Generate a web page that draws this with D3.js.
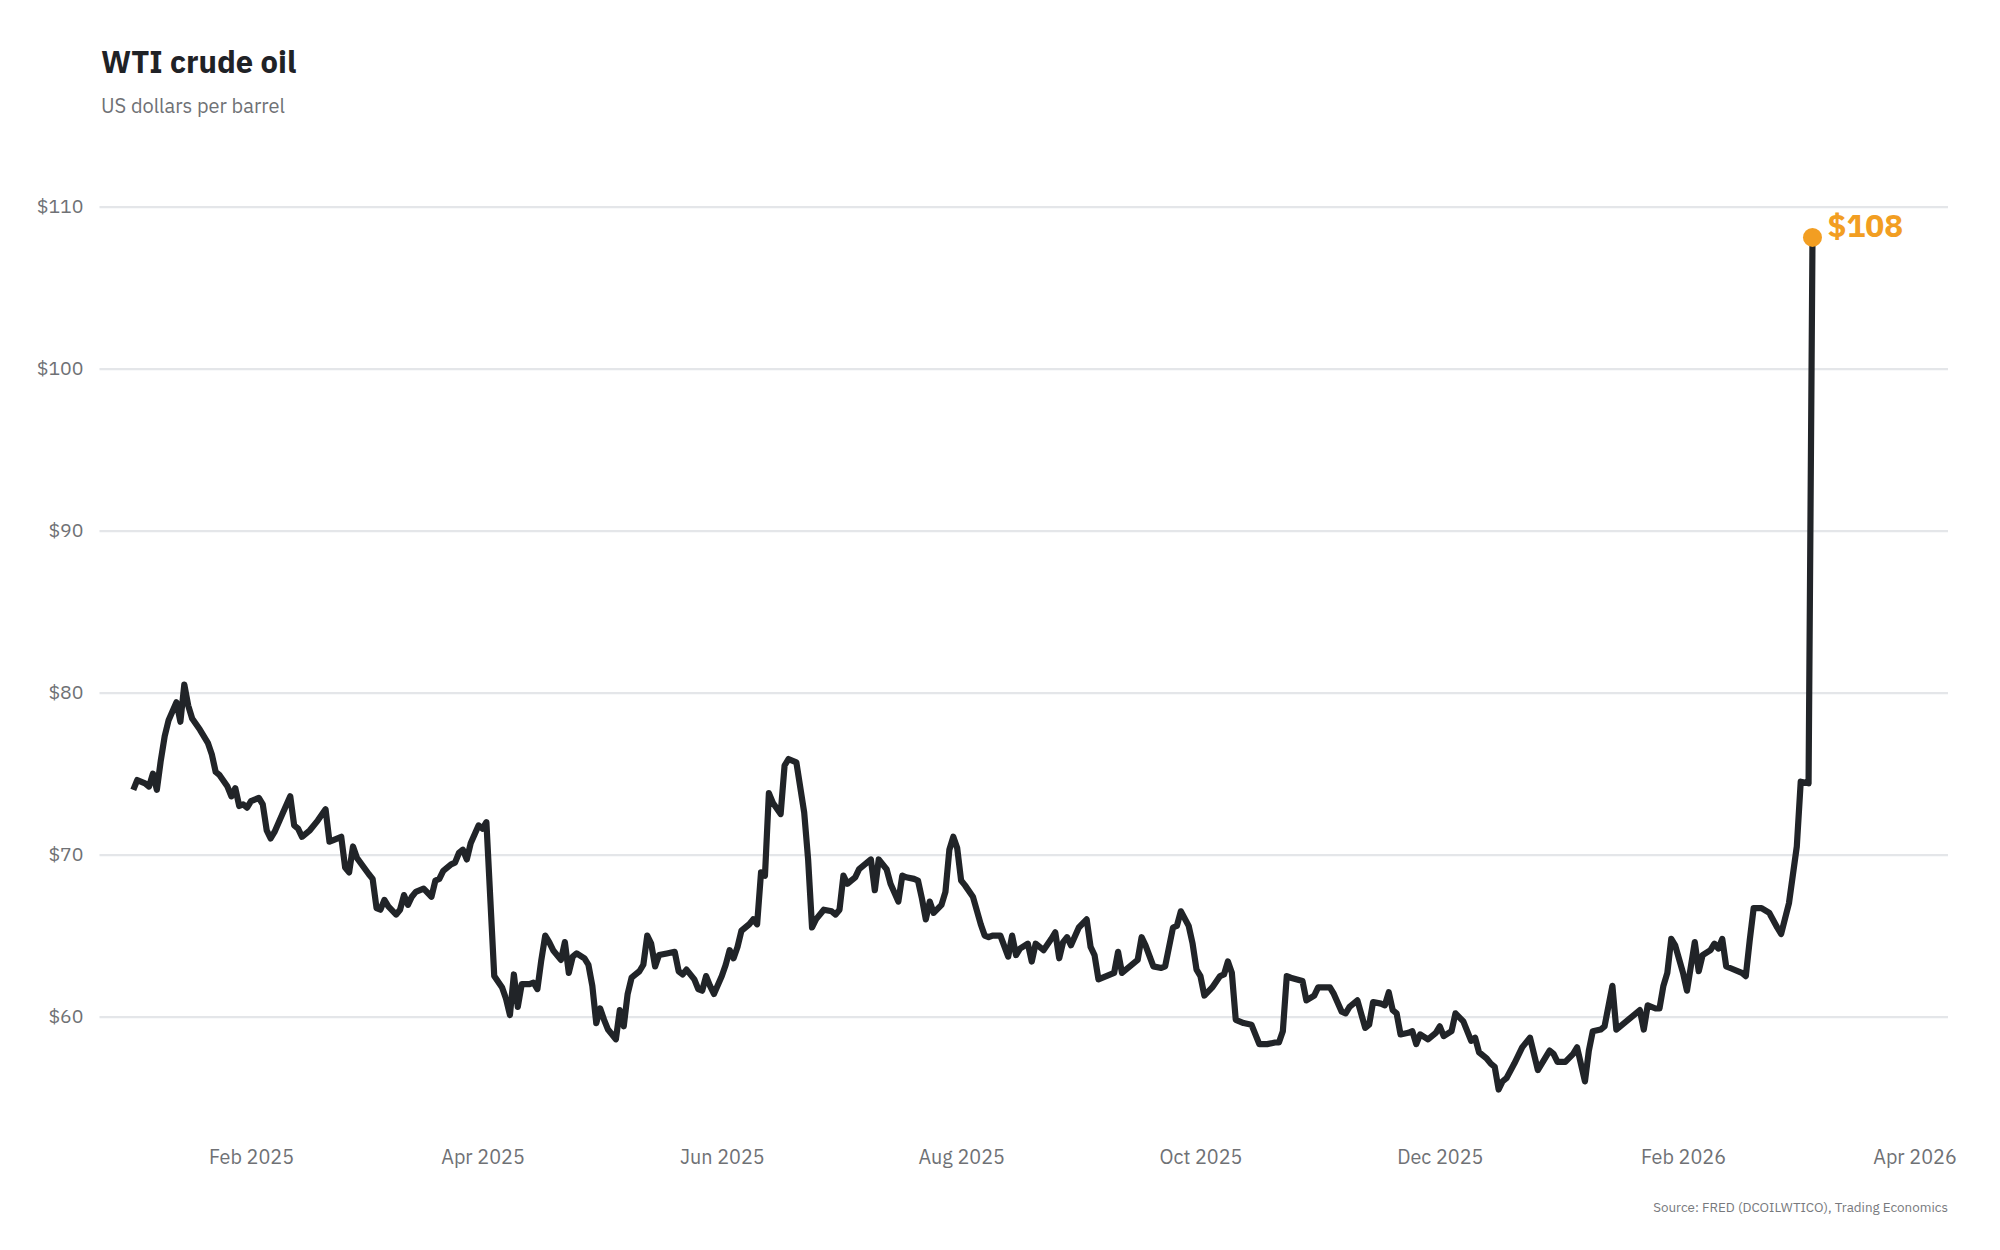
<!DOCTYPE html>
<html>
<head>
<meta charset="utf-8">
<script src="https://cdn.jsdelivr.net/npm/d3@7"></script>
<style>
  html, body { margin: 0; padding: 0; background: #ffffff; }
  svg { display: block; }
  text { font-family: "IBM Plex Sans", "Noto Sans", sans-serif; }
</style>
</head>
<body>
<svg id="chart" width="2000" height="1250"></svg>
<script>
const title = "WTI crude oil";
const subtitle = "US dollars per barrel";
const source = "Source: FRED (DCOILWTICO), Trading Economics";

const dates = [
"2025-01-02","2025-01-03","2025-01-05","2025-01-06","2025-01-07","2025-01-08","2025-01-09","2025-01-10","2025-01-11","2025-01-13",
"2025-01-14","2025-01-15","2025-01-16","2025-01-17","2025-01-19","2025-01-21","2025-01-22","2025-01-23","2025-01-24","2025-01-26",
"2025-01-27","2025-01-28","2025-01-29","2025-01-30","2025-01-31","2025-02-01","2025-02-03","2025-02-04","2025-02-05","2025-02-06",
"2025-02-07","2025-02-09","2025-02-11","2025-02-12","2025-02-13","2025-02-14","2025-02-16","2025-02-18","2025-02-20","2025-02-21",
"2025-02-22","2025-02-24","2025-02-25","2025-02-26","2025-02-27","2025-02-28","2025-03-03","2025-03-04","2025-03-05","2025-03-06",
"2025-03-07","2025-03-08","2025-03-10","2025-03-11","2025-03-12","2025-03-13","2025-03-14","2025-03-15","2025-03-17","2025-03-19",
"2025-03-20","2025-03-21","2025-03-22","2025-03-24","2025-03-25","2025-03-26","2025-03-27","2025-03-28","2025-03-29","2025-03-31",
"2025-04-01","2025-04-02","2025-04-04","2025-04-06","2025-04-07","2025-04-08","2025-04-09","2025-04-10","2025-04-11","2025-04-13",
"2025-04-14","2025-04-15","2025-04-16","2025-04-17","2025-04-18","2025-04-19","2025-04-21","2025-04-22","2025-04-23","2025-04-24",
"2025-04-25","2025-04-27","2025-04-28","2025-04-29","2025-04-30","2025-05-01","2025-05-02","2025-05-03","2025-05-05","2025-05-06",
"2025-05-07","2025-05-08","2025-05-09","2025-05-11","2025-05-12","2025-05-13","2025-05-14","2025-05-15","2025-05-16","2025-05-18",
"2025-05-20","2025-05-21","2025-05-22","2025-05-23","2025-05-25","2025-05-26","2025-05-27","2025-05-28","2025-05-29","2025-05-30",
"2025-06-01","2025-06-02","2025-06-03","2025-06-04","2025-06-05","2025-06-06","2025-06-08","2025-06-09","2025-06-10","2025-06-11",
"2025-06-12","2025-06-13","2025-06-14","2025-06-16","2025-06-17","2025-06-18","2025-06-20","2025-06-22","2025-06-23","2025-06-24",
"2025-06-25","2025-06-27","2025-06-29","2025-06-30","2025-07-01","2025-07-02","2025-07-03","2025-07-05","2025-07-06","2025-07-08",
"2025-07-09","2025-07-10","2025-07-11","2025-07-13","2025-07-14","2025-07-16","2025-07-17","2025-07-18","2025-07-20","2025-07-21",
"2025-07-22","2025-07-23","2025-07-24","2025-07-25","2025-07-27","2025-07-28","2025-07-29","2025-07-30","2025-07-31","2025-08-01",
"2025-08-02","2025-08-04","2025-08-06","2025-08-07","2025-08-08","2025-08-09","2025-08-11","2025-08-13","2025-08-14","2025-08-15",
"2025-08-16","2025-08-18","2025-08-19","2025-08-20","2025-08-21","2025-08-22","2025-08-24","2025-08-25","2025-08-26","2025-08-27",
"2025-08-28","2025-08-29","2025-08-31","2025-09-02","2025-09-03","2025-09-04","2025-09-05","2025-09-07","2025-09-09","2025-09-10",
"2025-09-11","2025-09-13","2025-09-15","2025-09-16","2025-09-17","2025-09-19","2025-09-21","2025-09-22","2025-09-24","2025-09-25",
"2025-09-26","2025-09-28","2025-09-29","2025-09-30","2025-10-01","2025-10-02","2025-10-04","2025-10-06","2025-10-07","2025-10-08",
"2025-10-09","2025-10-10","2025-10-12","2025-10-14","2025-10-16","2025-10-18","2025-10-20","2025-10-21","2025-10-22","2025-10-23",
"2025-10-24","2025-10-27","2025-10-28","2025-10-30","2025-10-31","2025-11-03","2025-11-04","2025-11-06","2025-11-07","2025-11-08",
"2025-11-10","2025-11-12","2025-11-13","2025-11-14","2025-11-16","2025-11-17","2025-11-18","2025-11-19","2025-11-20","2025-11-21",
"2025-11-23","2025-11-24","2025-11-25","2025-11-26","2025-11-28","2025-11-30","2025-12-01","2025-12-02","2025-12-04","2025-12-05",
"2025-12-07","2025-12-08","2025-12-09","2025-12-10","2025-12-11","2025-12-13","2025-12-14","2025-12-15","2025-12-16","2025-12-17",
"2025-12-18","2025-12-20","2025-12-22","2025-12-24","2025-12-26","2025-12-27","2025-12-29","2025-12-30","2025-12-31","2026-01-02",
"2026-01-04","2026-01-05","2026-01-07","2026-01-08","2026-01-09","2026-01-11","2026-01-12","2026-01-14","2026-01-15","2026-01-17",
"2026-01-19","2026-01-21","2026-01-22","2026-01-23","2026-01-25","2026-01-26","2026-01-27","2026-01-28","2026-01-29","2026-01-30",
"2026-02-01","2026-02-02","2026-02-03","2026-02-04","2026-02-05","2026-02-06","2026-02-08","2026-02-09","2026-02-10","2026-02-11",
"2026-02-12","2026-02-13","2026-02-16","2026-02-17","2026-02-18","2026-02-19","2026-02-21","2026-02-23","2026-02-25","2026-02-26",
"2026-02-28","2026-03-02","2026-03-03","2026-03-05","2026-03-06"
];

const prices = [
74.0,74.6,74.4,74.2,75.0,74.0,75.8,77.3,78.3,79.4,
78.2,80.5,79.2,78.4,77.7,76.9,76.2,75.1,74.9,74.2,
73.6,74.1,73.0,73.1,72.9,73.3,73.5,73.1,71.5,71.0,
71.4,72.5,73.6,71.8,71.6,71.1,71.5,72.1,72.8,70.8,
70.9,71.1,69.2,68.9,70.5,69.8,68.8,68.5,66.7,66.6,
67.2,66.8,66.3,66.6,67.5,66.9,67.4,67.7,67.9,67.4,
68.4,68.5,69.0,69.4,69.5,70.1,70.3,69.7,70.7,71.8,
71.6,72.0,62.5,61.8,61.1,60.1,62.6,60.6,62.0,62.0,
62.1,61.7,63.5,65.0,64.6,64.1,63.5,64.6,62.7,63.7,
63.9,63.6,63.2,61.9,59.6,60.5,59.8,59.2,58.6,60.4,
59.4,61.4,62.4,62.8,63.2,65.0,64.5,63.1,63.8,63.9,
64.0,62.8,62.6,62.9,62.3,61.7,61.6,62.5,61.9,61.4,
62.5,63.2,64.1,63.6,64.3,65.3,65.7,66.0,65.7,68.9,
68.7,73.8,73.2,72.5,75.5,75.9,75.7,72.6,69.7,65.5,
66.0,66.6,66.5,66.3,66.6,68.7,68.2,68.6,69.1,69.5,
69.7,67.8,69.7,69.1,68.2,67.1,68.7,68.6,68.5,68.4,
67.3,66.0,67.1,66.4,66.9,67.7,70.3,71.1,70.4,68.4,
68.1,67.4,65.7,65.0,64.9,65.0,65.0,63.7,65.0,63.8,
64.2,64.5,63.4,64.5,64.3,64.1,64.8,65.2,63.6,64.6,
64.9,64.4,65.5,66.0,64.3,63.8,62.3,62.5,62.7,64.0,
62.7,63.1,63.5,64.9,64.4,63.1,63.0,63.1,65.5,65.6,
66.5,65.6,64.5,62.9,62.5,61.3,61.8,62.5,62.6,63.4,
62.7,59.8,59.6,59.5,58.3,58.3,58.4,58.4,59.1,62.5,
62.4,62.2,61.0,61.3,61.8,61.8,61.4,60.3,60.2,60.6,
61.0,59.3,59.5,60.9,60.8,60.7,61.5,60.4,60.2,58.9,
59.0,59.1,58.3,58.9,58.6,59.0,59.4,58.8,59.1,60.2,
59.7,59.1,58.5,58.7,57.8,57.4,57.1,56.9,55.5,56.0,
56.2,57.1,58.1,58.7,56.7,57.1,57.9,57.7,57.2,57.2,
57.7,58.1,56.0,57.9,59.1,59.2,59.4,61.9,59.2,59.6,
60.0,60.4,59.2,60.7,60.5,60.5,61.9,62.7,64.8,64.4,
62.7,61.6,63.1,64.6,62.8,63.8,64.1,64.5,64.2,64.8,
63.1,63.0,62.7,62.5,64.7,66.7,66.7,66.4,65.5,65.1,
67.0,70.5,74.5,74.4,108.1
];

const yTicks = [60, 70, 80, 90, 100, 110];
const xTicks = ["2025-02-01","2025-04-01","2025-06-01","2025-08-01","2025-10-01","2025-12-01","2026-02-01","2026-04-01"];

const parse = d3.utcParse("%Y-%m-%d");
const data = dates.map((d, i) => ({ date: parse(d), value: prices[i] }));

const svg = d3.select("#chart");
const plotLeft = 99.5, plotRight = 1948;
const FONT = '"IBM Plex Sans", "Noto Sans", sans-serif';

const x = d3.scaleUtc()
  .domain([parse("2025-02-01"), parse("2026-04-01")])
  .range([251, 1914.5]);

const y = d3.scaleLinear()
  .domain([60, 110])
  .range([1016.6, 206.6]);

// Title & subtitle
svg.append("text")
  .attr("x", 101).attr("y", 73)
  .attr("font-size", 31).attr("font-weight", 700)
  .attr("fill", "#1f2226")
  .text(title);
svg.append("text")
  .attr("x", 101).attr("y", 113)
  .attr("font-size", 20).attr("fill", "#6f7175")
  .text(subtitle);

// Y gridlines + labels via axis
const yAxis = d3.axisLeft(y)
  .tickValues(yTicks)
  .tickSize(-(plotRight - plotLeft))
  .tickPadding(16)
  .tickFormat(d => "$" + d);
const yg = svg.append("g")
  .attr("transform", `translate(${plotLeft},0)`)
  .call(yAxis);
yg.select(".domain").remove();
yg.selectAll(".tick line").attr("stroke", "#e4e6e9").attr("stroke-width", 2.2);
yg.selectAll(".tick text")
  .attr("font-size", 19.5).attr("fill", "#6f7175")
  .attr("font-family", FONT);

// X axis labels
const xAxis = d3.axisBottom(x)
  .tickValues(xTicks.map(parse))
  .tickSize(0)
  .tickPadding(0)
  .tickFormat(d3.utcFormat("%b %Y"));
const xg = svg.append("g")
  .attr("transform", `translate(0,1150)`)
  .call(xAxis);
xg.select(".domain").remove();
xg.selectAll(".tick text")
  .attr("font-size", 19.8).attr("fill", "#6f7175")
  .attr("font-family", FONT);

// Line
const line = d3.line()
  .x(d => x(d.date))
  .y(d => y(d.value));
svg.append("path")
  .datum(data)
  .attr("fill", "none")
  .attr("stroke", "#212428")
  .attr("stroke-width", 6.2)
  .attr("stroke-linejoin", "round")
  .attr("stroke-linecap", "butt")
  .attr("d", line);

// Last point highlight
const last = data[data.length - 1];
svg.append("circle")
  .attr("cx", x(last.date)).attr("cy", y(last.value))
  .attr("r", 9.5)
  .attr("fill", "#f29e22");
svg.append("text")
  .attr("x", x(last.date) + 15).attr("y", y(last.value))
  .attr("font-size", 31.5).attr("font-weight", 700)
  .attr("fill", "#f29e22")
  .text("$" + Math.round(last.value));

// Source
svg.append("text")
  .attr("x", plotRight).attr("y", 1212)
  .attr("text-anchor", "end")
  .attr("font-size", 13.4).attr("fill", "#77797d")
  .text(source);
</script>
</body>
</html>
